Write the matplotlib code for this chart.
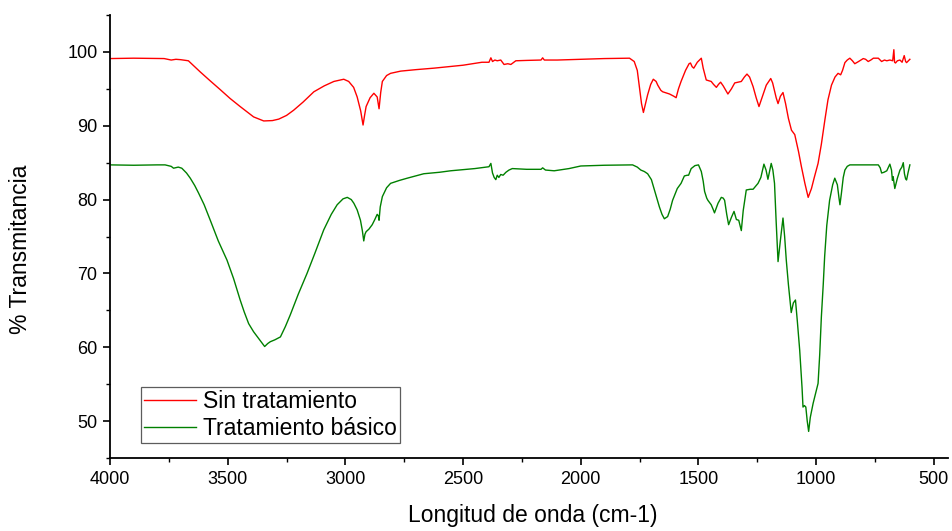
import matplotlib
matplotlib.use("Agg")
import matplotlib.pyplot as plt
from matplotlib.ticker import MultipleLocator

plt.rcParams['font.family'] = ['Liberation Sans', 'DejaVu Sans']

# Sin tratamiento (wavenumber, % transmittance)
red_x = [4000, 3900, 3800, 3770, 3740, 3720, 3700, 3667, 3617, 3575, 3532, 3490, 3447, 3390,
         3347, 3310, 3283, 3250, 3220, 3180, 3134, 3090, 3049, 3007, 2986, 2965, 2950, 2935,
         2925, 2918, 2912, 2895, 2879, 2865, 2857, 2850, 2843, 2825, 2808, 2765, 2700, 2624,
         2500, 2420, 2390, 2382, 2375, 2365, 2355, 2340, 2326, 2310, 2297, 2276, 2230, 2169,
         2162, 2155, 2100, 2000, 1900, 1793, 1773, 1760, 1751, 1742, 1734, 1725, 1716, 1703,
         1692, 1680, 1673, 1660, 1652, 1623, 1605, 1595, 1585, 1574, 1555, 1540, 1534, 1527,
         1520, 1505, 1488, 1480, 1467, 1446, 1436, 1424, 1415, 1406, 1395, 1375, 1360, 1346,
         1318, 1305, 1294, 1283, 1268, 1255, 1243, 1230, 1212, 1193, 1185, 1170, 1162, 1152,
         1141, 1130, 1118, 1105, 1091, 1075, 1063, 1048, 1034, 1020, 1008, 992, 978, 963,
         950, 935, 920, 907, 896, 888, 878, 868, 857, 846, 836, 820, 800, 790, 779, 768,
         757, 736, 722, 710, 700, 687, 675, 670, 667, 663, 655, 644, 635, 626, 620, 616,
         608, 602]
red_y = [99.1, 99.15, 99.1, 99.1, 98.9, 99.0, 98.95, 98.8, 97.3, 96.1, 94.9, 93.7, 92.6, 91.2,
         90.65, 90.7, 90.9, 91.4, 92.1, 93.2, 94.6, 95.4, 96.0, 96.3, 96.0, 95.2, 93.9, 92.0,
         90.1, 91.5, 92.6, 93.8, 94.4, 93.9, 92.3, 94.5, 96.0, 96.8, 97.1, 97.4, 97.6, 97.8,
         98.2, 98.6, 98.6, 99.2, 98.7, 98.9, 98.8, 98.9, 98.3, 98.4, 98.3, 98.8, 98.85, 98.9,
         99.2, 98.9, 98.9, 99.0, 99.1, 99.15, 98.7, 97.5, 95.3, 93.0, 91.8, 93.0, 94.2, 95.6,
         96.3, 96.0, 95.5, 94.8, 94.6, 94.3, 94.0, 93.8, 95.0, 96.0, 97.5, 98.4, 98.5, 98.0,
         97.8, 98.6, 99.15, 97.8, 96.2, 96.0, 95.6, 95.2, 95.6, 95.9, 95.4, 94.3, 95.0, 95.8,
         96.0, 96.6, 97.0, 96.6, 95.3, 93.8, 92.6, 93.8, 95.5, 96.4, 95.8, 93.8, 93.0, 94.0,
         94.5, 93.0, 91.0, 89.4, 88.8, 86.5, 84.5, 82.2, 80.3, 81.5, 83.0, 84.9, 87.5, 90.8,
         93.5, 95.5, 96.6, 97.1, 96.9, 97.5, 98.55, 98.9, 99.15, 98.8, 98.4, 98.7, 99.1, 99.0,
         98.7, 98.9, 99.15, 99.15, 98.7, 98.9, 98.8, 98.9, 98.8, 100.3, 98.6, 98.5, 98.8,
         98.9, 98.6, 99.5, 98.7, 98.55, 98.8, 99.0]

# Tratamiento básico
green_x = [4000, 3900, 3800, 3766, 3740, 3730, 3710, 3695, 3675, 3659, 3640, 3624, 3600, 3574,
           3540, 3503, 3475, 3447, 3430, 3411, 3390, 3369, 3355, 3343, 3330, 3319, 3300, 3276,
           3255, 3234, 3200, 3163, 3130, 3092, 3060, 3035, 3010, 2992, 2975, 2964, 2950, 2936,
           2928, 2922, 2917, 2912, 2900, 2886, 2875, 2865, 2860, 2857, 2852, 2843, 2825, 2808,
           2770, 2737, 2667, 2600, 2553, 2450, 2400, 2390, 2382, 2375, 2368, 2361, 2355, 2348,
           2340, 2330, 2318, 2305, 2291, 2230, 2169, 2162, 2150, 2113, 2050, 2000, 1900, 1780,
           1760, 1745, 1730, 1716, 1700, 1687, 1675, 1666, 1655, 1645, 1631, 1620, 1610, 1590,
           1574, 1560, 1548, 1542, 1531, 1515, 1500, 1488, 1480, 1474, 1465, 1460, 1446, 1438,
           1432, 1425, 1417, 1403, 1395, 1389, 1380, 1372, 1360, 1349, 1339, 1329, 1318, 1310,
           1297, 1280, 1268, 1247, 1235, 1222, 1213, 1205, 1198, 1191, 1184, 1177, 1170, 1162,
           1152, 1141, 1134, 1127, 1118, 1106, 1097, 1088, 1080, 1070, 1060, 1056, 1050, 1044,
           1038, 1032, 1025, 1013, 1002, 992, 985, 978, 970, 964, 955, 943, 930, 921, 910, 903,
           899, 893, 885, 878, 868, 857, 800, 736, 728, 722, 712, 700, 687, 680, 676, 673, 666,
           655, 644, 636, 630, 625, 620, 616, 610, 602]
green_y = [84.7, 84.65, 84.7, 84.7, 84.5, 84.25, 84.4, 84.25, 83.6, 82.9, 81.9, 80.9, 79.3, 77.2,
           74.4, 71.8, 69.3, 66.4, 64.8, 63.2, 62.1, 61.2, 60.6, 60.1, 60.5, 60.75, 61.0, 61.4,
           62.8, 64.4, 67.2, 70.0, 72.7, 75.9, 78.0, 79.3, 80.1, 80.3, 80.0, 79.5, 78.6, 77.2,
           75.8, 74.4, 75.3, 75.65, 76.0, 76.6, 77.3, 78.0, 77.8, 77.2, 79.0, 80.4, 81.6, 82.2,
           82.6, 82.9, 83.5, 83.7, 83.9, 84.2, 84.4, 84.45, 84.9, 83.6, 83.0, 82.7, 83.3, 83.0,
           83.4, 83.3, 83.7, 84.0, 84.2, 84.1, 84.1, 84.3, 84.0, 83.9, 84.2, 84.55, 84.65, 84.7,
           84.4, 84.0, 83.8, 83.5, 82.7, 81.3, 80.0, 79.0, 78.0, 77.4, 77.7, 78.7, 79.9, 81.5,
           82.2, 83.2, 83.3, 83.3, 84.2, 84.6, 84.7, 83.8, 82.5, 81.1, 80.2, 79.9, 79.3, 78.7,
           78.2, 78.8, 79.5, 80.3, 80.2, 79.9, 78.0, 76.6, 77.6, 78.4, 77.3, 77.2, 75.8, 78.5,
           81.3, 81.4, 81.4, 82.2, 83.0, 84.8, 84.0, 82.75, 83.8, 84.9, 84.0, 82.2, 77.0, 71.6,
           74.5, 77.5, 75.0, 71.8, 68.5, 64.7, 66.0, 66.4, 63.5, 59.6, 54.5, 51.9, 52.1, 51.9,
           50.0, 48.6, 50.5, 52.4, 53.8, 55.1, 59.0, 64.1, 68.5, 72.3, 76.5, 79.9, 82.0, 82.9,
           82.0, 80.2, 79.3, 80.8, 83.0, 84.0, 84.5, 84.7, 84.7, 84.7, 84.3, 83.6, 83.7, 83.9,
           84.8, 84.0, 82.6, 83.1, 81.5, 82.9, 84.0, 84.4, 85.0, 83.5, 82.8, 82.65, 83.6, 84.7]

series_labels = ["Sin tratamiento", "Tratamiento básico"]
x_label = "Longitud de onda (cm-1)"
y_label = "% Transmitancia"

fig = plt.figure(figsize=(9.53, 5.31), dpi=100)
ax = fig.add_axes([110/953, 1-458/531, 838/953, 443/531])

ax.plot(red_x, red_y, color='#ff0000', lw=1.0, label=series_labels[0])
ax.plot(green_x, green_y, color='#008000', lw=1.0, label=series_labels[1])

ax.set_xlim(4000, 440)
ax.set_ylim(45, 105)
ax.xaxis.set_major_locator(MultipleLocator(500))
ax.xaxis.set_minor_locator(MultipleLocator(250))
ax.yaxis.set_major_locator(MultipleLocator(10))
ax.yaxis.set_minor_locator(MultipleLocator(5))

for s in ['top', 'right']:
    ax.spines[s].set_visible(False)
for s in ['left', 'bottom']:
    ax.spines[s].set_linewidth(1.3)
ax.tick_params(which='major', direction='out', length=5, width=1.2, labelsize=13, pad=4)
ax.tick_params(which='minor', direction='out', length=3, width=1.0)

ax.set_xlabel(x_label, fontsize=16.5)
ax.set_ylabel(y_label, fontsize=16.5)
ax.xaxis.set_label_coords(0.504, -0.104)
ax.yaxis.set_label_coords(-0.093, 0.47)

leg = ax.legend(loc='lower left', bbox_to_anchor=(0.037, 0.034), borderaxespad=0,
                fontsize=16.5, frameon=True, fancybox=False, edgecolor='#333333',
                handlelength=2.3, handletextpad=0.3, borderpad=0.12, labelspacing=0.2)
leg.get_frame().set_linewidth(0.9)

fig.savefig("out.png", dpi=100)
